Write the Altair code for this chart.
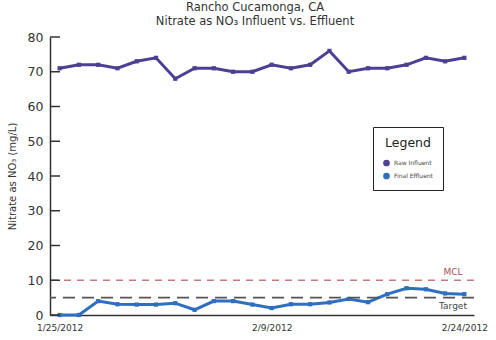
import altair as alt
import pandas as pd

dates = ["1/25/2012", "1/26/2012", "1/27/2012", "1/30/2012", "1/31/2012", "2/1/2012",
         "2/2/2012", "2/3/2012", "2/6/2012", "2/7/2012", "2/8/2012", "2/9/2012",
         "2/10/2012", "2/13/2012", "2/14/2012", "2/15/2012", "2/16/2012", "2/17/2012",
         "2/21/2012", "2/22/2012", "2/23/2012", "2/24/2012"]
raw_influent = [71, 72, 72, 71, 73, 74, 68, 71, 71, 70, 70, 72,
                71, 72, 76, 70, 71, 71, 72, 74, 73, 74]
final_effluent = [0, 0, 4, 3.1, 3, 3, 3.4, 1.5, 4, 4, 3, 2,
                  3.1, 3.1, 3.6, 4.6, 3.7, 6, 7.7, 7.4, 6.2, 6]
shown_dates = ["1/25/2012", "2/9/2012", "2/24/2012"]
y_ticks = [0, 10, 20, 30, 40, 50, 60, 70, 80]
ref_values = [10, 5]
ref_labels = ["MCL", "Target"]
series_names = ["Raw Influent", "Final Effluent"]
series_colors = ["#4f3f94", "#2f6fc2"]

FONT = "DejaVu Sans"

df = pd.DataFrame({
    "date": dates * 2,
    "value": raw_influent + final_effluent,
    "series": [series_names[0]] * len(dates) + [series_names[1]] * len(dates),
})

label_test = " || ".join([f"datum.value == '{d}'" for d in shown_dates])

x_axis = alt.Axis(title=None, labelExpr=f"({label_test}) ? datum.value : ''",
                  labelAngle=0, ticks=False, domainColor="#333", domainWidth=1.5,
                  labelFontSize=9, labelColor="#333", labelPadding=8,
                  labelFont=FONT, labelOverlap=False)
x_scale = alt.Scale(type="point", padding=0.5)
y_scale = alt.Scale(domain=[0, 80], nice=False)
y_axis = alt.Axis(title="Nitrate as NO₃ (mg/L)", values=y_ticks, ticks=False,
                  grid=False, domainColor="#333", domainWidth=1.5,
                  labelFontSize=12.5, labelColor="#333", labelPadding=7,
                  labelOverlap=False, labelBound=False,
                  titleFontSize=10, titleFontWeight="normal", titleColor="#333",
                  titlePadding=10, labelFont=FONT, titleFont=FONT)

base = alt.Chart(df)

lines = base.mark_line(strokeWidth=3).encode(
    x=alt.X("date:O", sort=dates, scale=x_scale, axis=x_axis),
    y=alt.Y("value:Q", scale=y_scale, axis=y_axis),
    color=alt.Color("series:N", sort=series_names,
                    scale=alt.Scale(domain=series_names, range=series_colors),
                    legend=alt.Legend(title="Legend", orient="none", legendX=323, legendY=90,
                                      strokeColor="#222", padding=10, titleFontSize=12.5,
                                      titleFontWeight="normal", titleColor="#222",
                                      titleAnchor="middle", titlePadding=10,
                                      labelFontSize=6, labelColor="#444", symbolType="circle",
                                      symbolSize=45, symbolStrokeWidth=0, rowPadding=6,
                                      labelFont=FONT, titleFont=FONT,
                                      fillColor="white")),
)
points = base.mark_point(shape="square", filled=True, size=18, opacity=1).encode(
    x=alt.X("date:O", sort=dates, scale=x_scale, axis=x_axis),
    y=alt.Y("value:Q", scale=y_scale, axis=y_axis),
    color=alt.Color("series:N", sort=series_names, legend=None),
)

tick_df = pd.DataFrame({"t": y_ticks})
ticks = alt.Chart(tick_df).mark_rule(color="#333", strokeWidth=1.5).encode(
    y=alt.Y("t:Q", scale=y_scale, axis=y_axis),
    x=alt.value(0), x2=alt.value(10),
)

ref_df = pd.DataFrame({"v": ref_values, "label": ref_labels})
mcl_rule = alt.Chart(ref_df).transform_filter(alt.datum.label == "MCL").mark_rule(
    color="#c47c84", strokeWidth=1.5, strokeDash=[7, 6]).encode(
    y=alt.Y("v:Q", scale=y_scale, axis=y_axis))
tgt_rule = alt.Chart(ref_df).transform_filter(alt.datum.label == "Target").mark_rule(
    color="#555555", strokeWidth=1.8, strokeDash=[12, 7]).encode(
    y=alt.Y("v:Q", scale=y_scale, axis=y_axis))
mcl_text = alt.Chart(ref_df).transform_filter(alt.datum.label == "MCL").mark_text(
    fontSize=9, color="#a8505a", dy=-8, font=FONT).encode(
    y=alt.Y("v:Q", scale=y_scale, axis=y_axis), x=alt.value(403), text="label:N")
tgt_text = alt.Chart(ref_df).transform_filter(alt.datum.label == "Target").mark_text(
    fontSize=9, color="#444", dy=8, font=FONT).encode(
    y=alt.Y("v:Q", scale=y_scale, axis=y_axis), x=alt.value(403), text="label:N")

chart = alt.layer(lines, points, mcl_rule, tgt_rule, mcl_text, tgt_text, ticks).properties(
    width=424, height=278,
    autosize=alt.AutoSizeParams(type="none"),
    padding={"left": 50, "top": 37, "right": 22, "bottom": 25},
    title=alt.TitleParams(text=["Rancho Cucamonga, CA", "Nitrate as NO₃ Influent vs. Effluent"],
                          fontSize=11.5, fontWeight="normal", color="#333", font=FONT,
                          anchor="middle", offset=4, dx=-7, lineHeight=14),
    background="white",
).configure_view(stroke=None)

chart.save("out.html", embed_options={"renderer": "svg", "actions": False})
